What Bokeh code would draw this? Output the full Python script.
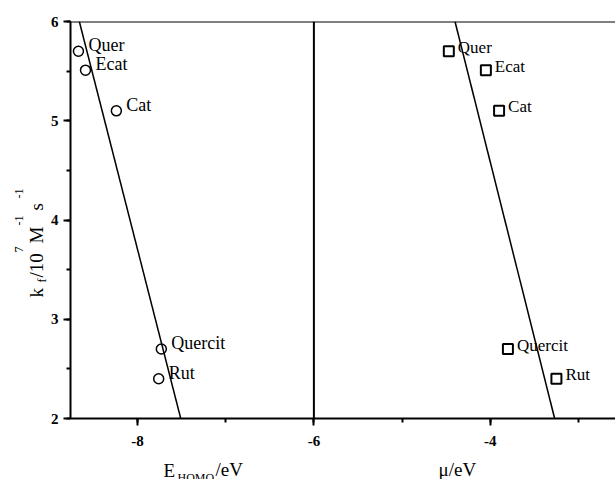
import math
from bokeh.plotting import figure
from bokeh.layouts import row, column
from bokeh.models import (ColumnDataSource, Span, SingleIntervalTicker, Range1d,
                          CustomJSTickFormatter)
from bokeh.core.properties import value
from bokeh.embed import file_html
from bokeh.resources import INLINE

# ---- data ----
compounds = ["Quer", "Ecat", "Cat", "Quercit", "Rut"]
kf = [5.70, 5.51, 5.10, 2.70, 2.40]            # k_f / 10^7 M^-1 s^-1
e_homo = [-8.67, -8.59, -8.24, -7.73, -7.76]    # E_HOMO / eV
mu = [-4.47, -4.05, -3.90, -3.80, -3.25]        # mu / eV
fit_homo_x = [-8.66, -7.51]
fit_mu_x = [-4.40, -3.27]
fit_y = [6.0, 2.0]
divider_x = -6

SERIF = "Liberation Serif"
PAGE_H = 479
# page-pixel geometry of the main frame
FL, FR, FT, FB = 70, 615, 21, 418
YL_W = 47
XL_H = 27


def blank(width, height, xr, yr, **borders):
    f = figure(width=width, height=height, output_backend="svg", toolbar_location=None,
               x_range=Range1d(*xr), y_range=Range1d(*yr),
               x_axis_type=None, y_axis_type=None, **borders)
    f.outline_line_color = None
    f.background_fill_color = "white"
    f.border_fill_color = "white"
    return f


# ---------------- main plot ----------------
p = figure(width=FR - YL_W, height=PAGE_H - XL_H, output_backend="svg",
           toolbar_location=None,
           x_range=Range1d(-8.76, -2.58), y_range=Range1d(2, 6),
           min_border_left=FL - YL_W, min_border_right=0, min_border_top=FT,
           min_border_bottom=PAGE_H - XL_H - FB)
p.background_fill_color = "white"
p.border_fill_color = "white"
p.outline_line_color = None
p.xgrid.visible = False
p.ygrid.visible = False

for ax in (p.xaxis[0], p.yaxis[0]):
    ax.axis_line_width = 2
    ax.axis_line_color = "black"
    ax.major_tick_line_width = 2
    ax.minor_tick_line_width = 2
    ax.major_tick_line_color = "black"
    ax.minor_tick_line_color = "black"
    ax.major_tick_in = 0
    ax.major_tick_out = 7
    ax.minor_tick_in = 0
    ax.minor_tick_out = 4
    ax.major_label_text_font = SERIF
    ax.major_label_text_font_size = "15px"
    ax.major_label_text_font_style = "bold"
    ax.major_label_text_color = "black"
    ax.formatter = CustomJSTickFormatter(code="return tick.toFixed(0)")

p.xaxis[0].ticker = SingleIntervalTicker(interval=2, num_minor_ticks=2)
p.yaxis[0].ticker = SingleIntervalTicker(interval=1, num_minor_ticks=2)
p.xaxis[0].major_label_standoff = 10
p.yaxis[0].major_label_standoff = 5

p.add_layout(Span(location=6, dimension="width", line_color="black", line_width=2))
p.add_layout(Span(location=divider_x, dimension="height", line_color="black", line_width=2))

src = ColumnDataSource(dict(name=compounds, kf=kf, ehomo=e_homo, mu=mu))

p.line(fit_homo_x, fit_y, line_color="black", line_width=1.5)
p.line(fit_mu_x, fit_y, line_color="black", line_width=1.5)

p.scatter("ehomo", "kf", source=src, marker="circle", size=10, fill_color=None,
          line_color="black", line_width=1.5)
p.scatter("mu", "kf", source=src, marker="square", size=10, fill_color=None,
          line_color="black", line_width=2)

p.text("ehomo", "kf", text="name", source=src, x_offset=10, y_offset=-6,
       text_font=value(SERIF), text_font_size="18px", text_baseline="middle",
       text_color="black")
p.text("mu", "kf", text="name", source=src, x_offset=9, y_offset=-4,
       text_font=value(SERIF), text_font_size="17px", text_baseline="middle",
       text_color="black")

# ---------------- y-axis title (x = page px, y = PAGE_H - page px) ----------------
yl = blank(YL_W, PAGE_H, (0, YL_W), (PAGE_H - FB, PAGE_H - FT),
           min_border_left=0, min_border_right=0,
           min_border_top=FT, min_border_bottom=PAGE_H - FB)
A = math.pi / 2
main_x, sup_x, sub_x = 36, 18, 41
ypieces = [("k", main_x, 297, "19px"), ("f", sub_x, 282, "12px"),
           ("/10", main_x, 277, "19px"), ("7", sup_x, 252, "12px"),
           ("M", main_x, 243, "19px"), ("-1", sup_x, 225, "12px"),
           ("s", main_x, 210, "19px"), ("-1", sup_x, 198, "12px")]
for t, x, y, s in ypieces:
    yl.text(x=[x], y=[PAGE_H - y], text=[t], angle=A, text_font=value(SERIF),
            text_font_size=s, text_baseline="middle", text_align="left",
            text_color="black")

# ---------------- x-axis titles (x = page px) ----------------
xl = blank(FR - YL_W, XL_H, (FL, FR), (0, XL_H),
           min_border_left=FL - YL_W, min_border_right=0,
           min_border_top=0, min_border_bottom=0)
xpieces = [("E", 163, 470, "19px"), ("HOMO", 177, 477, "12px"),
           ("/eV", 215, 469, "19px"), ("\u03bc/eV", 438, 469, "19px")]
for t, x, y, s in xpieces:
    xl.text(x=[x], y=[PAGE_H - y], text=[t], text_font=value(SERIF), text_font_size=s,
            text_baseline="middle", text_align="left", text_color="black")

layout = row(yl, column(p, xl, spacing=0), spacing=0)
open("out.html", "w").write(file_html(layout, INLINE))
